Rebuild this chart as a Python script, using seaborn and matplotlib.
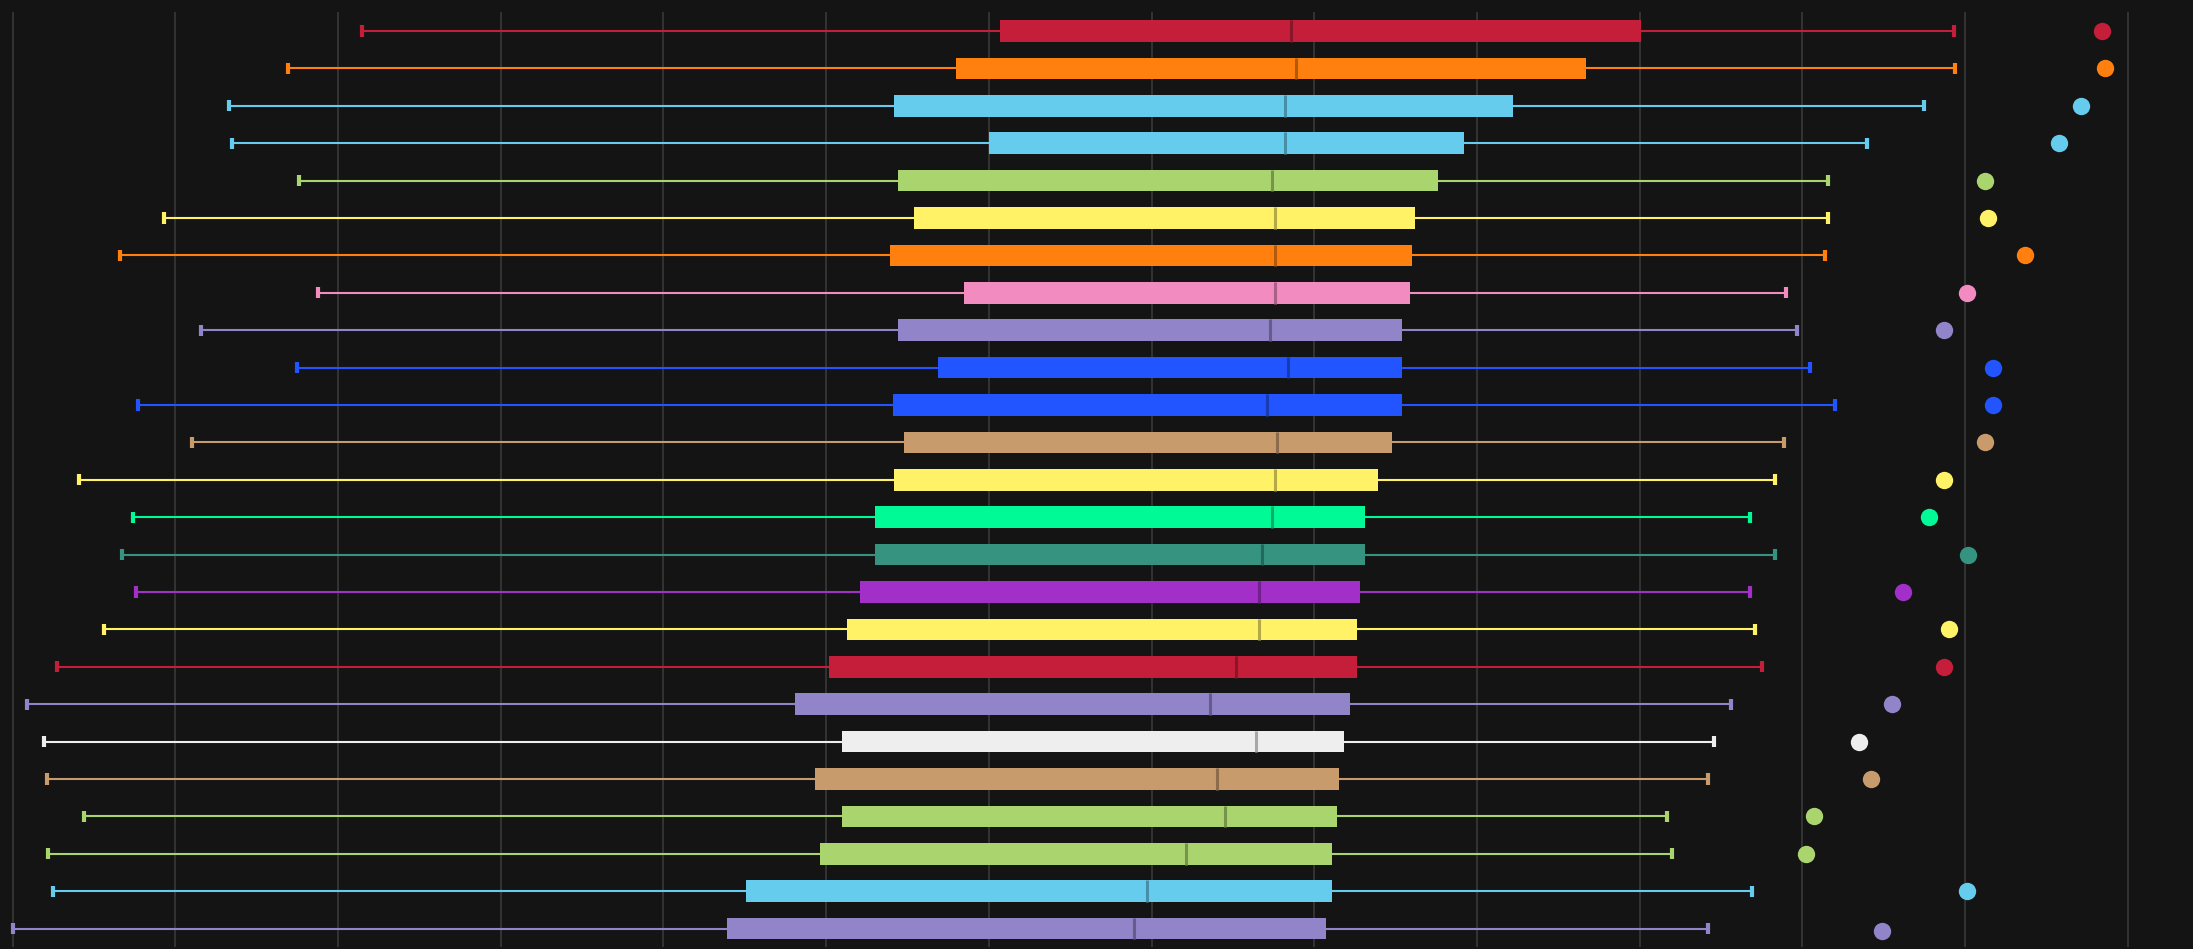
import numpy as np
import pandas as pd
import seaborn as sns
import matplotlib.pyplot as plt
from matplotlib.colors import to_rgb
from matplotlib.transforms import ScaledTranslation


# one row per group, top to bottom
groups = [f"G{i:02d}" for i in range(1, 26)]

whisk_lo = [21.5, 16.9, 13.3, 13.5, 17.6, 9.3, 6.6, 18.8, 11.6, 17.5, 7.7, 11.0, 4.1,
            7.4, 6.7, 7.6, 5.6, 2.7, 0.9, 1.9, 2.1, 4.4, 2.2, 2.5, 0.0]
q1 = [60.7, 58.0, 54.2, 60.0, 54.4, 55.4, 53.9, 58.5, 54.4, 56.9, 54.1, 54.8, 54.2,
      53.0, 53.0, 52.1, 51.3, 50.2, 48.1, 51.0, 49.3, 51.0, 49.6, 45.1, 43.9]
median = [78.6, 78.9, 78.2, 78.2, 77.4, 77.6, 77.6, 77.6, 77.3, 78.4, 77.1, 77.7, 77.6,
          77.4, 76.8, 76.6, 76.6, 75.2, 73.6, 76.4, 74.0, 74.5, 72.1, 69.7, 68.9]
q3 = [100.1, 96.7, 92.2, 89.2, 87.6, 86.2, 86.0, 85.9, 85.4, 85.4, 85.4, 84.8, 83.9,
      83.1, 83.1, 82.8, 82.6, 82.6, 82.2, 81.8, 81.5, 81.4, 81.1, 81.1, 80.7]
whisk_hi = [119.3, 119.4, 117.5, 114.0, 111.6, 111.6, 111.4, 109.0, 109.7, 110.5, 112.0,
            108.9, 108.3, 106.8, 108.3, 106.8, 107.1, 107.5, 105.6, 104.6, 104.2, 101.7,
            102.0, 106.9, 104.2]
dot_x = [128.4, 128.6, 127.1, 125.8, 121.2, 121.4, 123.7, 120.1, 118.7, 121.7, 121.7,
         121.2, 118.7, 117.8, 120.2, 116.2, 119.0, 118.7, 115.5, 113.5, 114.2, 110.7,
         110.2, 120.1, 114.9]

colors = ["#C41E3A", "#FF800E", "#66CCEE", "#66CCEE", "#AAD46E", "#FFF266", "#FF800E",
          "#F28CC0", "#9184C8", "#2255FF", "#2255FF", "#C89B6C", "#FFF266", "#00FA96",
          "#35937F", "#A12FC8", "#FFF266", "#C41E3A", "#9184C8", "#EEEEEE", "#C89B6C",
          "#AAD46E", "#AAD46E", "#66CCEE", "#9184C8"]

BG = "#141414"

# five values per group -> quartiles come out exactly with whis=(0, 100)
rows = []
for g, a, b, c, d, e in zip(groups, whisk_lo, q1, median, q3, whisk_hi):
    for v in (a, b, c, d, e):
        rows.append({"group": g, "value": v})
df = pd.DataFrame(rows)

sns.set_style("dark", rc={"axes.facecolor": BG, "figure.facecolor": BG})

fig = plt.figure(figsize=(21.93, 9.49), dpi=100)
ax = fig.add_axes([0, 0.0018, 1, 0.9852])

for g, c in zip(groups, colors):
    dark = tuple(np.array(to_rgb(c)) * 0.7)
    sns.boxplot(data=df[df["group"] == g], x="value", y="group", order=groups,
                orient="h", whis=(0, 100), showfliers=False, width=0.58,
                color=c, saturation=1, ax=ax,
                boxprops=dict(facecolor=c, edgecolor=c, linewidth=0),
                whiskerprops=dict(color=c, linewidth=1.5),
                capprops=dict(color=c, linewidth=3, solid_capstyle="butt"),
                medianprops=dict(color=dark, linewidth=2.2, solid_capstyle="butt"),
                capwidths=0.3)

sns.stripplot(x=dot_x, y=groups, order=groups, hue=groups, hue_order=groups,
              palette=colors, jitter=False, size=12.5, linewidth=0,
              legend=False, ax=ax)
# dots sit a hair below the whisker line
dots = ax.collections[-1]
dots.set_offset_transform(ax.transData + ScaledTranslation(0, -2.5 / 100, fig.dpi_scale_trans))
dots.set_zorder(5)

ax.set_xlim(-0.774, 134.01)
ax.set_ylim(24.5, -0.5)
ax.set_xticks(np.arange(0, 140, 10))
ax.set_xticklabels([])
ax.set_yticks([])
ax.tick_params(length=0)
ax.set_xlabel("")
ax.set_ylabel("")
ax.grid(axis="x", color="#333333", linewidth=1.4)
ax.grid(axis="y", visible=False)
ax.set_axisbelow(True)
for s in ax.spines.values():
    s.set_visible(False)

fig.savefig("out.png", dpi=100, facecolor=BG)
